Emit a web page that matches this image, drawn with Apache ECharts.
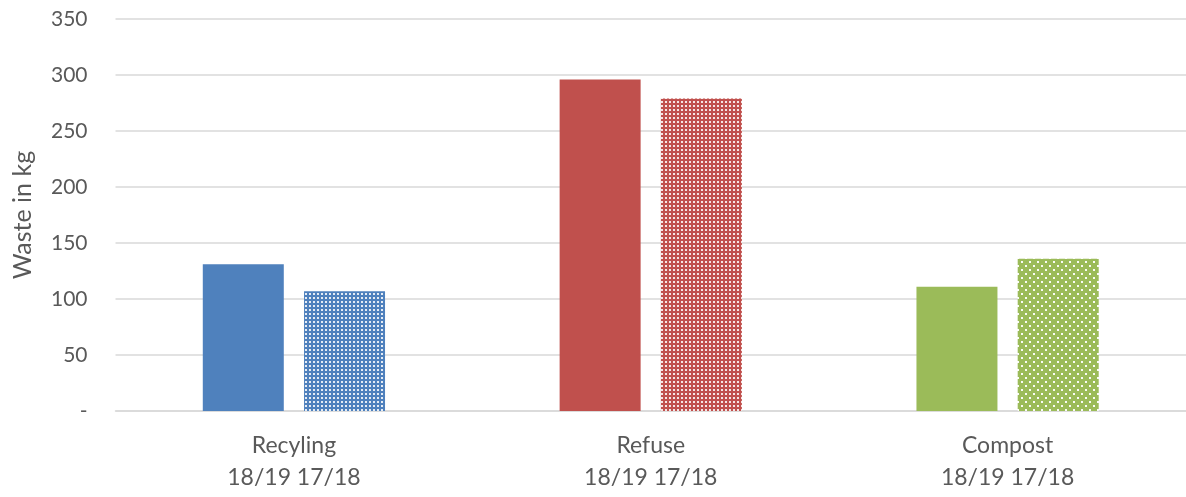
<!DOCTYPE html>
<html>
<head>
<meta charset="utf-8">
<script src="https://cdn.jsdelivr.net/npm/echarts@6/dist/echarts.min.js"></script>
<style>
  html, body { margin: 0; padding: 0; background: #ffffff; }
  #chart { width: 1186px; height: 497px; }
</style>
</head>
<body>
<div id="chart"></div>
<script>
// Household waste per stream, two seasons
const categories = ['Recyling', 'Refuse', 'Compost'];
const seasonLabels = ['18/19', '17/18'];
const waste1819 = [131, 296, 111];
const waste1718 = [107, 279, 136];
const yTicks = [0, 50, 100, 150, 200, 250, 300, 350];

// Colour per waste stream
const streamColors = ['#4f81bd', '#c0504d', '#9bbb59'];

// Tiled fill with white dots for the older season
function dotPattern(color, kind) {
  const c = document.createElement('canvas');
  const ctx = c.getContext('2d');
  if (kind === 'sparse') {
    c.width = 8; c.height = 8;
    ctx.fillStyle = color; ctx.fillRect(0, 0, 8, 8);
    ctx.fillStyle = 'rgba(255,255,255,0.95)';
    ctx.fillRect(1, 1, 2, 2);
    ctx.fillRect(5, 5, 2, 2);
  } else {
    c.width = 4; c.height = 4;
    ctx.fillStyle = color; ctx.fillRect(0, 0, 4, 4);
    ctx.fillStyle = 'rgba(255,255,255,0.85)';
    ctx.fillRect(1, 1, 2, 2);
  }
  return { image: c, repeat: 'repeat' };
}
const patternKinds = ['dense', 'dense', 'sparse'];

const axisLabels = categories.map(c => c + '\n' + seasonLabels.join(' '));
const font = 'Lato, "Noto Sans", sans-serif';

const chart = echarts.init(document.getElementById('chart'), null, { renderer: 'canvas' });
chart.setOption({
  animation: false,
  backgroundColor: '#ffffff',
  textStyle: { fontFamily: font },
  grid: { left: 115.5, width: 1073, top: 19, bottom: 86, containLabel: false },
  xAxis: {
    type: 'category',
    data: axisLabels,
    axisLine: { show: true, lineStyle: { color: '#d9d9d9', width: 1.5 } },
    axisTick: { show: false },
    axisLabel: {
      color: '#595959', fontSize: 23, lineHeight: 32, margin: 19,
      fontFamily: font
    }
  },
  yAxis: {
    type: 'value',
    min: yTicks[0],
    max: yTicks[yTicks.length - 1],
    interval: yTicks[1] - yTicks[0],
    name: 'Waste in kg',
    nameLocation: 'middle',
    nameGap: 80,
    nameRotate: 90,
    nameTextStyle: { color: '#595959', fontSize: 25, fontFamily: font },
    axisLine: { show: false },
    axisTick: { show: false },
    splitLine: { lineStyle: { color: '#d9d9d9', width: 1.5 } },
    axisLabel: {
      color: '#595959', fontSize: 21, margin: 28,
      fontFamily: font,
      formatter: v => (v === 0 ? '-' : String(v))
    }
  },
  series: [
    {
      name: seasonLabels[0],
      type: 'bar',
      barWidth: 81,
      barGap: '25%',
      data: waste1819.map((v, i) => ({ value: v, itemStyle: { color: streamColors[i] } }))
    },
    {
      name: seasonLabels[1],
      type: 'bar',
      barWidth: 81,
      barGap: '25%',
      data: waste1718.map((v, i) => ({ value: v, itemStyle: { color: dotPattern(streamColors[i], patternKinds[i]) } }))
    }
  ]
});
</script>
</body>
</html>
